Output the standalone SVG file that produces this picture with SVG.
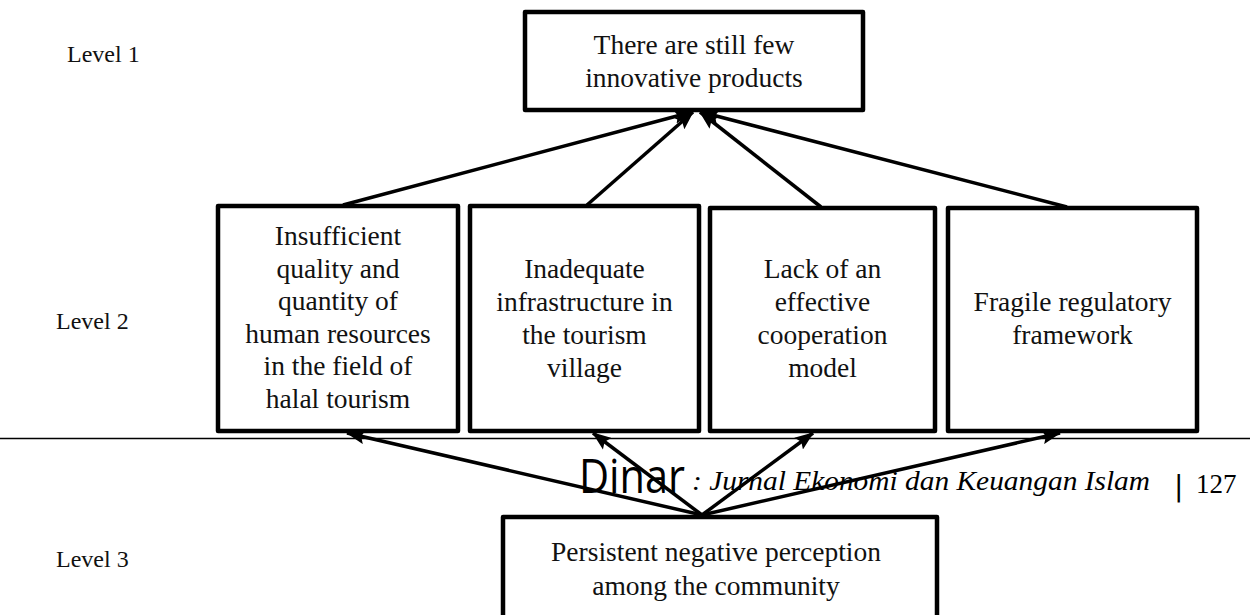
<svg xmlns="http://www.w3.org/2000/svg" width="1250" height="615" viewBox="0 0 1250 615">
<defs>
<style>
.box{fill:#fff;stroke:#000;stroke-width:4.5;stroke-linejoin:round}
.t{font-family:"Liberation Serif","Times New Roman",serif;font-size:27.5px;fill:#111;text-anchor:middle}
.lvl{font-family:"Liberation Serif","Times New Roman",serif;font-size:24px;fill:#111}
.ar{stroke:#000;stroke-width:3.5;fill:none;marker-end:url(#ah)}
</style>
<marker id="ah" markerUnits="userSpaceOnUse" markerWidth="19" markerHeight="15" refX="16" refY="6.5" orient="auto" viewBox="0 0 17 13">
<path d="M0,0 L17,6.5 L0,13 L3,6.5 Z" fill="#000"/>
</marker>
</defs>
<rect width="1250" height="615" fill="#fff"/>

<g id="labels">
<text class="lvl" x="67" y="62">Level 1</text>
<text class="lvl" x="56" y="329">Level 2</text>
<text class="lvl" x="56" y="567">Level 3</text>
</g>

<g id="footer">
<line x1="0" y1="438.5" x2="1250" y2="438.5" stroke="#000" stroke-width="1.5"/>
<text x="579" y="493" font-family="'Open Sans','DejaVu Sans',sans-serif" font-size="48" textLength="106" lengthAdjust="spacingAndGlyphs" fill="#000">Dinar</text>
<text x="692" y="490" font-family="'Liberation Serif',serif" font-style="italic" font-size="27" textLength="458" lengthAdjust="spacingAndGlyphs" fill="#000">: Jurnal Ekonomi dan Keuangan Islam</text>
<text x="1174" y="496" font-family="'DejaVu Sans',sans-serif" font-size="28" fill="#000">|</text>
<text x="1196" y="493" font-family="'Liberation Serif',serif" font-size="27" fill="#000">127</text>
</g>

<g id="n-top">
<rect class="box" x="525" y="12" width="338" height="98"/>
<text class="t" x="694" y="54">There are still few</text>
<text class="t" x="694" y="87">innovative products</text>
</g>

<g id="n-hr">
<rect class="box" x="218" y="206" width="240" height="225"/>
<text class="t" x="338" y="245">Insufficient</text>
<text class="t" x="338" y="278">quality and</text>
<text class="t" x="338" y="310">quantity of</text>
<text class="t" x="338" y="343">human resources</text>
<text class="t" x="338" y="375">in the field of</text>
<text class="t" x="338" y="408">halal tourism</text>
</g>

<g id="n-infra">
<rect class="box" x="470" y="206" width="229" height="225"/>
<text class="t" x="584.5" y="278">Inadequate</text>
<text class="t" x="584.5" y="311">infrastructure in</text>
<text class="t" x="584.5" y="344">the tourism</text>
<text class="t" x="584.5" y="377">village</text>
</g>

<g id="n-coop">
<rect class="box" x="710" y="208" width="225" height="223"/>
<text class="t" x="822.5" y="278">Lack of an</text>
<text class="t" x="822.5" y="311">effective</text>
<text class="t" x="822.5" y="344">cooperation</text>
<text class="t" x="822.5" y="377">model</text>
</g>

<g id="n-reg">
<rect class="box" x="948" y="208" width="249" height="223"/>
<text class="t" x="1072.5" y="311">Fragile regulatory</text>
<text class="t" x="1072.5" y="344">framework</text>
</g>

<g id="n-perc">
<rect class="box" x="503" y="517" width="434" height="110"/>
<text class="t" x="716" y="561">Persistent negative perception</text>
<text class="t" x="716" y="595">among the community</text>
</g>

<g id="connectors">
<line class="ar" x1="343" y1="205" x2="692" y2="112"/>
<line class="ar" x1="587" y1="205" x2="693" y2="112"/>
<line class="ar" x1="821" y1="207" x2="700" y2="112"/>
<line class="ar" x1="1067" y1="207" x2="701" y2="112"/>
<line class="ar" x1="702" y1="515" x2="347" y2="433"/>
<line class="ar" x1="702" y1="515" x2="593" y2="433"/>
<line class="ar" x1="702" y1="515" x2="813" y2="433"/>
<line class="ar" x1="702" y1="515" x2="1060" y2="433"/>
</g>
</svg>
